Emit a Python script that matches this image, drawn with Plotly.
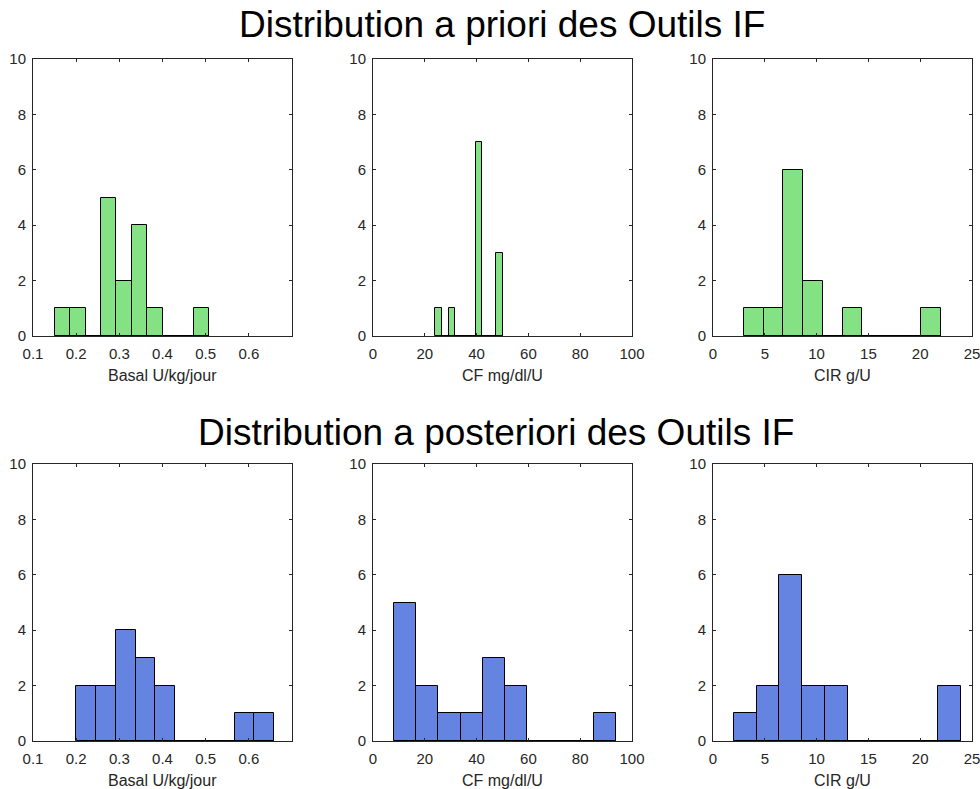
import plotly.graph_objects as go

# ---------------- data ----------------
titles = ["Distribution a priori des Outils IF", "Distribution a posteriori des Outils IF"]
xlabels = ["Basal U/kg/jour", "CF mg/dl/U", "CIR g/U"]

prior_basal_edges = [0.150, 0.186, 0.222, 0.257, 0.293, 0.329, 0.364, 0.400, 0.436, 0.472, 0.508]
prior_basal_counts = [1, 1, 0, 5, 2, 4, 1, 0, 0, 1]
prior_cf_edges = [24.0, 26.6, 29.2, 31.8, 34.4, 37.0, 39.6, 42.2, 44.8, 47.4, 50.0]
prior_cf_counts = [1, 0, 1, 0, 0, 0, 7, 0, 0, 3]
prior_cir_edges = [3.0, 4.9, 6.8, 8.7, 10.6, 12.5, 14.4, 16.3, 18.2, 20.1, 22.0]
prior_cir_counts = [1, 1, 6, 2, 0, 1, 0, 0, 0, 1]

post_basal_edges = [0.200, 0.246, 0.292, 0.338, 0.383, 0.429, 0.475, 0.521, 0.567, 0.613, 0.658]
post_basal_counts = [2, 2, 4, 3, 2, 0, 0, 0, 1, 1]
post_cf_edges = [8.1, 16.7, 25.2, 33.8, 42.3, 50.9, 59.5, 68.0, 76.6, 85.2, 93.7]
post_cf_counts = [5, 2, 1, 1, 3, 2, 0, 0, 0, 1]
post_cir_edges = [2.0, 4.2, 6.4, 8.6, 10.8, 13.0, 15.1, 17.3, 19.5, 21.7, 23.9]
post_cir_counts = [1, 2, 6, 2, 2, 0, 0, 0, 0, 2]

x_ranges = [[0.1, 0.7], [0, 100], [0, 25]]
x_ticks = [[0.1, 0.2, 0.3, 0.4, 0.5, 0.6], [0, 20, 40, 60, 80, 100], [0, 5, 10, 15, 20, 25]]
x_ticktext = [["0.1", "0.2", "0.3", "0.4", "0.5", "0.6"],
              ["0", "20", "40", "60", "80", "100"],
              ["0", "5", "10", "15", "20", "25"]]
y_ticks = [0, 2, 4, 6, 8, 10]

rows = [
    [(prior_basal_edges, prior_basal_counts), (prior_cf_edges, prior_cf_counts), (prior_cir_edges, prior_cir_counts)],
    [(post_basal_edges, post_basal_counts), (post_cf_edges, post_cf_counts), (post_cir_edges, post_cir_counts)],
]
row_colors = ["#84E184", "#6584E1"]

# ---------------- layout geometry (page body margin removed via post_script) ----------------
W, H = 980, 789
col_px = [(33, 292), (373, 632), (713, 972)]
row_px = [(59, 336), (464, 741)]
title_px = [(502, 25), (496, 433)]

FONT = "Arial, 'Liberation Sans', Helvetica, sans-serif"
AXC = "#262626"

fig = go.Figure()
layout = dict(
    width=W, height=H,
    margin=dict(l=0, r=0, t=0, b=0, autoexpand=False),
    paper_bgcolor="white", plot_bgcolor="white",
    showlegend=False,
    font=dict(family=FONT, color=AXC, size=15),
    bargap=0,
)
annotations = []

k = 0
for r in range(2):
    for c in range(3):
        k += 1
        xa = "x" if k == 1 else f"x{k}"
        ya = "y" if k == 1 else f"y{k}"
        edges, counts = rows[r][c]
        centers = [(edges[i] + edges[i + 1]) / 2 for i in range(len(counts))]
        widths = [edges[i + 1] - edges[i] for i in range(len(counts))]
        # baseline drawn by zero-height bins (bar outlines)
        fig.add_trace(go.Scatter(
            x=[edges[0], edges[-1]], y=[0, 0], mode="lines",
            line=dict(color="black", width=2), xaxis=xa, yaxis=ya,
            hoverinfo="skip",
        ))
        fig.add_trace(go.Bar(
            x=centers, y=counts, width=widths,
            marker=dict(color=row_colors[r], line=dict(color="black", width=1)),
            xaxis=xa, yaxis=ya,
        ))
        x0, x1 = col_px[c]
        y0, y1 = row_px[r]
        axcommon = dict(
            showline=True, linecolor=AXC, linewidth=1, mirror="ticks",
            ticks="inside", ticklen=3, tickcolor=AXC, tickwidth=1,
            showgrid=False, zeroline=False, layer="above traces",
            tickfont=dict(family=FONT, size=15, color=AXC),
            fixedrange=True, automargin=False, ticklabeloverflow="allow",
        )
        layout["xaxis" + ("" if k == 1 else str(k))] = dict(
            axcommon, domain=[x0 / W, x1 / W], anchor=ya,
            range=x_ranges[c], tickmode="array", tickvals=x_ticks[c], ticktext=x_ticktext[c],
            ticklabelstandoff=4,
        )
        layout["yaxis" + ("" if k == 1 else str(k))] = dict(
            axcommon, domain=[1 - y1 / H, 1 - y0 / H], anchor=xa,
            range=[0, 10], tickmode="array", tickvals=y_ticks,
            ticklabelstandoff=3,
        )
        annotations.append(dict(
            text=xlabels[c], xref=f"{xa} domain", yref=f"{ya} domain",
            x=0.5, y=0, yshift=-39, xanchor="center", yanchor="middle",
            showarrow=False, font=dict(family=FONT, size=16, color=AXC),
        ))

for r in range(2):
    tx, ty = title_px[r]
    annotations.append(dict(
        text=titles[r], xref="paper", yref="paper", x=tx / W, y=1 - ty / H,
        xanchor="center", yanchor="middle", showarrow=False,
        font=dict(family=FONT, size=37, color="black"),
    ))

layout["annotations"] = annotations
fig.update_layout(**layout)
fig.write_html(
    "out.html",
    config={"displayModeBar": False},
    post_script="document.body.style.margin='0';document.body.style.overflow='hidden';",
)
